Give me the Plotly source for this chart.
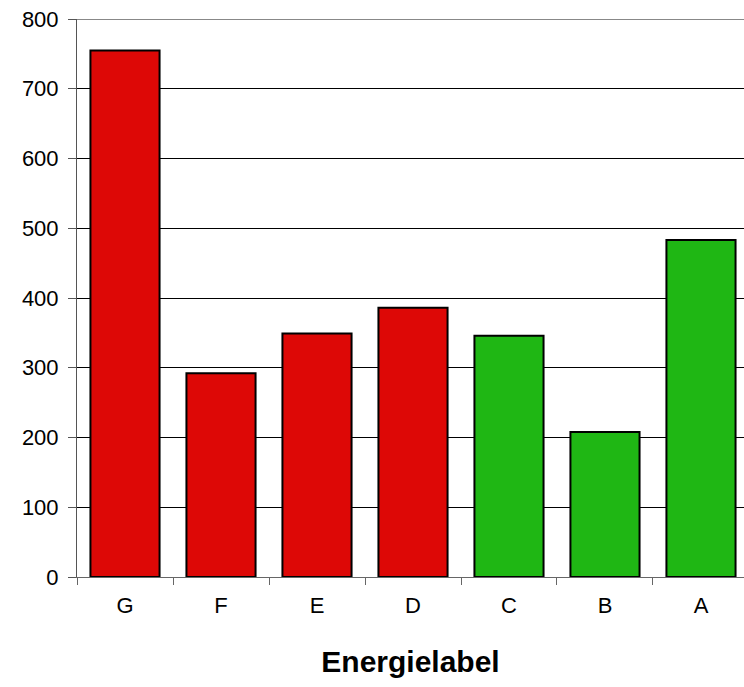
import plotly.graph_objects as go

categories = ["G", "F", "E", "D", "C", "B", "A"]
values = [755, 292, 349, 386, 346, 208, 483]
colors = ["#DD0806", "#DD0806", "#DD0806", "#DD0806", "#1FB714", "#1FB714", "#1FB714"]
y_ticks = [0, 100, 200, 300, 400, 500, 600, 700, 800]

fig = go.Figure(go.Bar(
    x=categories, y=values,
    marker=dict(color=colors, line=dict(color="black", width=2)),
    width=0.72,
))

fig.update_layout(
    width=744, height=687,
    margin=dict(l=77, r=0, t=19, b=110),
    plot_bgcolor="white", paper_bgcolor="white",
    font=dict(family="Liberation Sans, Arial", size=22, color="black"),
    showlegend=False,
)
fig.update_xaxes(
    type="category",
    range=[-0.5, 6.448], showgrid=False,
    showline=True, linecolor="#666", linewidth=1,
    ticks="outside", ticklen=7, tickcolor="#666", tickson="boundaries",
    ticklabelstandoff=9,
    title=dict(text="<b>Energielabel</b>", font=dict(size=30), standoff=33),
    zeroline=False,
)
fig.update_yaxes(
    range=[0, 800], tickvals=y_ticks,
    showgrid=True, gridcolor="black", gridwidth=1,
    showline=True, linecolor="#555", linewidth=1,
    ticks="outside", ticklen=8, tickcolor="#555",
    ticklabelstandoff=5,
    zeroline=False,
)
fig.add_shape(type="line", xref="paper", yref="y", x0=0, x1=1, y0=800, y1=800,
              line=dict(color="#888", width=2))
fig.write_html("out.html", config={"displayModeBar": False},
               post_script="document.body.style.margin='0';")
